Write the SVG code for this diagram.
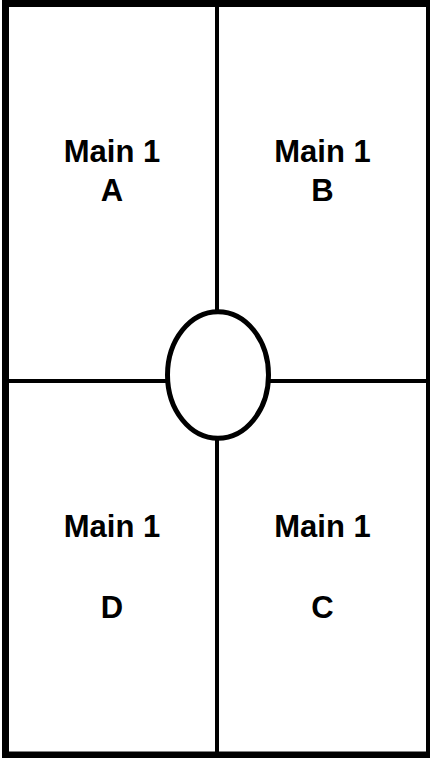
<svg xmlns="http://www.w3.org/2000/svg" width="430" height="758" viewBox="0 0 430 758">
<style>
.t{font-family:"Liberation Sans",Arial,sans-serif;font-weight:bold;font-size:31px;fill:#000;text-anchor:middle}
.ln{stroke:#000;stroke-width:4;fill:none}
</style>
<rect width="430" height="758" fill="#fff"/>
<g id="connectors">
<line class="ln" x1="217" y1="5" x2="217" y2="752"/>
<line class="ln" x1="7" y1="381" x2="427" y2="381"/>
</g>
<g id="frame">
<rect x="5.5" y="3.5" width="424" height="751.5" fill="none" stroke="#000" stroke-width="7"/>
</g>
<g id="center">
<ellipse cx="218" cy="375" rx="50.5" ry="63.3" fill="#fff" stroke="#000" stroke-width="5"/>
</g>
<g id="nodeA"><text class="t" x="112" y="161.5">Main 1</text><text class="t" x="112" y="201">A</text></g>
<g id="nodeB"><text class="t" x="322.5" y="161.5">Main 1</text><text class="t" x="322.5" y="201">B</text></g>
<g id="nodeD"><text class="t" x="112" y="536.5">Main 1</text><text class="t" x="112" y="618">D</text></g>
<g id="nodeC"><text class="t" x="322.5" y="536.5">Main 1</text><text class="t" x="322.5" y="618">C</text></g>
</svg>
